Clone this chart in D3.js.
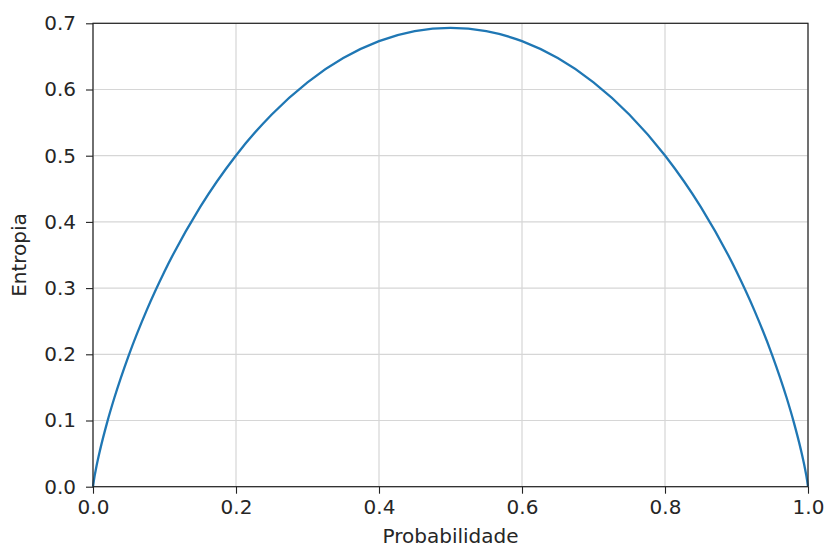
<!DOCTYPE html>
<html>
<head>
<meta charset="utf-8">
<script src="https://cdn.jsdelivr.net/npm/d3@7"></script>
<style>
  html, body { margin: 0; padding: 0; background: #fff; }
  svg { display: block; font-family: "DejaVu Sans", sans-serif; }
</style>
</head>
<body>
<svg id="chart" width="825" height="549"></svg>
<script>
// Probability values along the curve
const probabilidade = [0, 0.001, 0.005, 0.01, 0.02, 0.03, 0.05, 0.075, 0.1, 0.15, 0.2, 0.25, 0.3, 0.35, 0.4, 0.45, 0.5,
  0.55, 0.6, 0.65, 0.7, 0.75, 0.8, 0.85, 0.9, 0.925, 0.95, 0.97, 0.98, 0.99, 0.995, 0.999, 1];
// Entropy (nats) at each probability
const entropia = [0, 0.0079, 0.0315, 0.0560, 0.0980, 0.1347, 0.1985, 0.2664, 0.3251, 0.4227, 0.5004, 0.5623, 0.6109, 0.6474, 0.6730, 0.6881, 0.6931,
  0.6881, 0.6730, 0.6474, 0.6109, 0.5623, 0.5004, 0.4227, 0.3251, 0.2664, 0.1985, 0.1347, 0.0980, 0.0560, 0.0315, 0.0079, 0];
const xTicks = [0, 0.2, 0.4, 0.6, 0.8, 1.0];
const yTicks = [0, 0.1, 0.2, 0.3, 0.4, 0.5, 0.6, 0.7];

const svg = d3.select("#chart");
const plotLeft = 93, plotRight = 808, plotTop = 23.3, plotBottom = 486.7;
const fontSize = "20px";

const x = d3.scaleLinear().domain([0, 1]).range([plotLeft, plotRight]);
const y = d3.scaleLinear().domain([0, 0.7]).range([plotBottom, plotTop]);

// grid
svg.append("g").selectAll("line").data(xTicks).join("line")
  .attr("x1", d => x(d)).attr("x2", d => x(d))
  .attr("y1", plotTop).attr("y2", plotBottom)
  .attr("stroke", "#d6d6d6").attr("stroke-width", 1.2);
svg.append("g").selectAll("line").data(yTicks).join("line")
  .attr("x1", plotLeft).attr("x2", plotRight)
  .attr("y1", d => y(d)).attr("y2", d => y(d))
  .attr("stroke", "#d6d6d6").attr("stroke-width", 1.2);

// curve
const pts = probabilidade.map((p, i) => [p, entropia[i]]);
svg.append("path")
  .datum(pts)
  .attr("fill", "none")
  .attr("stroke", "#1f77b4")
  .attr("stroke-width", 2.3)
  .attr("d", d3.line().x(d => x(d[0])).y(d => y(d[1])).curve(d3.curveMonotoneX));

// axes
const fmt = d3.format(".1f");
const xAxis = svg.append("g").attr("transform", `translate(0,${plotBottom})`)
  .call(d3.axisBottom(x).tickValues(xTicks).tickFormat(fmt).tickSize(7).tickSizeOuter(0).tickPadding(6));
const yAxis = svg.append("g").attr("transform", `translate(${plotLeft},0)`)
  .call(d3.axisLeft(y).tickValues(yTicks).tickFormat(fmt).tickSize(7).tickSizeOuter(0).tickPadding(10));
[xAxis, yAxis].forEach(a => {
  a.select(".domain").remove();
  a.selectAll("line").attr("stroke", "#222").attr("stroke-width", 1.1);
  a.selectAll("text").attr("fill", "#262626").style("font-size", fontSize).style("font-family", "'DejaVu Sans', sans-serif");
});

// frame
svg.append("rect")
  .attr("x", plotLeft).attr("y", plotTop)
  .attr("width", plotRight - plotLeft).attr("height", plotBottom - plotTop)
  .attr("fill", "none").attr("stroke", "#222").attr("stroke-width", 1.2);

// axis titles
svg.append("text")
  .attr("x", (plotLeft + plotRight) / 2).attr("y", 543)
  .attr("text-anchor", "middle")
  .attr("fill", "#262626").style("font-size", fontSize)
  .text("Probabilidade");
svg.append("text")
  .attr("transform", `translate(26,${(plotTop + plotBottom) / 2}) rotate(-90)`)
  .attr("text-anchor", "middle")
  .attr("fill", "#262626").style("font-size", fontSize)
  .text("Entropia");
</script>
</body>
</html>
